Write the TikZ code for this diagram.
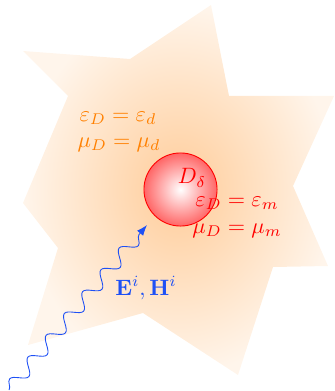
\documentclass[tikz,border=0pt]{standalone}
\usepackage{amssymb}
\usepackage{amsmath}
\usepackage{xcolor}
\usepackage{tikz}
\usetikzlibrary{arrows.meta,decorations.pathmorphing,positioning}

\definecolor{wavecol}{RGB}{30,80,245}

\begin{document}
\begin{tikzpicture}[x=0.45pt,y=-0.45pt,>=Latex]
\useasboundingbox (0,0) rectangle (334,391);
% outer medium
\shade[inner color=orange!40,outer color=orange!8] (211,5)--(229,96)--(334,96)--(293,186)--(328,266)--(273,267)--(238,375)--(143,313)--(28,345)--(58,248)--(23,203)--(68,96)--(23,51)--(130,59)--cycle;
\node[orange] (epsd) at (118,118) {$\varepsilon_D=\varepsilon_d$};
\node[orange] (mud) at (119,145) {$\mu_D=\mu_d$};
% inclusion
\node[circle,draw=red,inner color=white,outer color=red!60,minimum size=32.9pt,inner sep=0pt] (incl) at (180.5,189.5) {};
\node[red] (dlab) at (192,178) {$D_\delta$};
\node[red] (epsm) at (237,203) {$\varepsilon_D=\varepsilon_m$};
\node[red] (mum) at (237,231) {$\mu_D=\mu_m$};
% incident wave
\coordinate (src) at (9,390);
\coordinate (tip) at (147,225);
\draw[wavecol,->,decorate,decoration={snake,amplitude=3pt,segment length=12.8pt}] (src) -- (tip);
\node[wavecol] (field) at (146,288) {$\mathbf{E}^i,\mathbf{H}^i$};
\end{tikzpicture}
\end{document}
